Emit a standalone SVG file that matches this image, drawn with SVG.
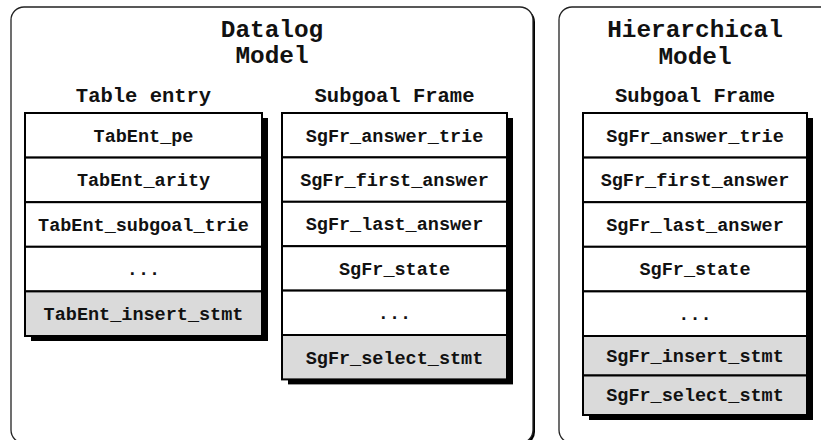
<svg xmlns="http://www.w3.org/2000/svg" width="821" height="440" viewBox="0 0 821 440">
  <style>
    text { font-family: "Liberation Mono", "Courier New", monospace; font-weight: bold; fill: #111; text-anchor: middle; }
    .title { font-size: 24.4px; }
    .head { font-size: 20.5px; }
    .cell { font-size: 18.5px; }
    .panel { fill: #fff; stroke: #222; stroke-width: 1.3; }
    .shadow { fill: #000; }
    .row { fill: #fff; stroke: #000; stroke-width: 2; }
    .row.gray { fill: #dadada; }
  </style>

  <!-- Datalog model panel -->
  <g id="datalog-panel">
    <rect x="14" y="9" width="521" height="436" rx="13" class="shadow"/>
    <rect x="11" y="7" width="522" height="436" rx="13" class="panel"/>
    <text class="title" x="272" y="37">Datalog</text>
    <text class="title" x="272" y="63">Model</text>
  </g>

  <!-- Hierarchical model panel -->
  <g id="hierarchical-panel">
    <rect x="559" y="7" width="300" height="436" rx="13" class="panel"/>
    <text class="title" x="695" y="37">Hierarchical</text>
    <text class="title" x="695" y="64">Model</text>
  </g>

  <!-- Table entry structure -->
  <g id="table-entry">
    <text class="head" x="143.5" y="102">Table entry</text>
    <rect x="31" y="118" width="237" height="223" class="shadow"/>
    <rect x="25" y="113" width="237" height="44.6" class="row"/>
    <rect x="25" y="157.6" width="237" height="44.6" class="row"/>
    <rect x="25" y="202.2" width="237" height="44.6" class="row"/>
    <rect x="25" y="246.8" width="237" height="44.6" class="row"/>
    <rect x="25" y="291.4" width="237" height="44.6" class="row gray"/>
    <text class="cell" x="143.5" y="141.5">TabEnt_pe</text>
    <text class="cell" x="143.5" y="186">TabEnt_arity</text>
    <text class="cell" x="143.5" y="230.7">TabEnt_subgoal_trie</text>
    <text class="cell" x="143.5" y="275.3">...</text>
    <text class="cell" x="143.5" y="319.9">TabEnt_insert_stmt</text>
  </g>

  <!-- Subgoal frame, datalog model -->
  <g id="subgoal-frame-datalog">
    <text class="head" x="394.5" y="102">Subgoal Frame</text>
    <rect x="288" y="118" width="225" height="266.4" class="shadow"/>
    <rect x="282" y="113" width="225" height="44.4" class="row"/>
    <rect x="282" y="157.4" width="225" height="44.4" class="row"/>
    <rect x="282" y="201.8" width="225" height="44.4" class="row"/>
    <rect x="282" y="246.2" width="225" height="44.4" class="row"/>
    <rect x="282" y="290.6" width="225" height="44.4" class="row"/>
    <rect x="282" y="335" width="225" height="44.4" class="row gray"/>
    <text class="cell" x="394.5" y="141.5">SgFr_answer_trie</text>
    <text class="cell" x="394.5" y="185.9">SgFr_first_answer</text>
    <text class="cell" x="394.5" y="230.3">SgFr_last_answer</text>
    <text class="cell" x="394.5" y="274.7">SgFr_state</text>
    <text class="cell" x="394.5" y="319.1">...</text>
    <text class="cell" x="394.5" y="363.5">SgFr_select_stmt</text>
  </g>

  <!-- Subgoal frame, hierarchical model -->
  <g id="subgoal-frame-hierarchical">
    <text class="head" x="695" y="102">Subgoal Frame</text>
    <rect x="589" y="118" width="224" height="302" class="shadow"/>
    <rect x="583" y="113" width="224" height="44.6" class="row"/>
    <rect x="583" y="157.6" width="224" height="44.6" class="row"/>
    <rect x="583" y="202.2" width="224" height="44.6" class="row"/>
    <rect x="583" y="246.8" width="224" height="44.6" class="row"/>
    <rect x="583" y="291.4" width="224" height="44.6" class="row"/>
    <rect x="583" y="336" width="224" height="39.5" class="row gray"/>
    <rect x="583" y="375.5" width="224" height="39.5" class="row gray"/>
    <text class="cell" x="695" y="141.5">SgFr_answer_trie</text>
    <text class="cell" x="695" y="186">SgFr_first_answer</text>
    <text class="cell" x="695" y="230.7">SgFr_last_answer</text>
    <text class="cell" x="695" y="275.3">SgFr_state</text>
    <text class="cell" x="695" y="319.9">...</text>
    <text class="cell" x="695" y="361.9">SgFr_insert_stmt</text>
    <text class="cell" x="695" y="401.4">SgFr_select_stmt</text>
  </g>
</svg>
